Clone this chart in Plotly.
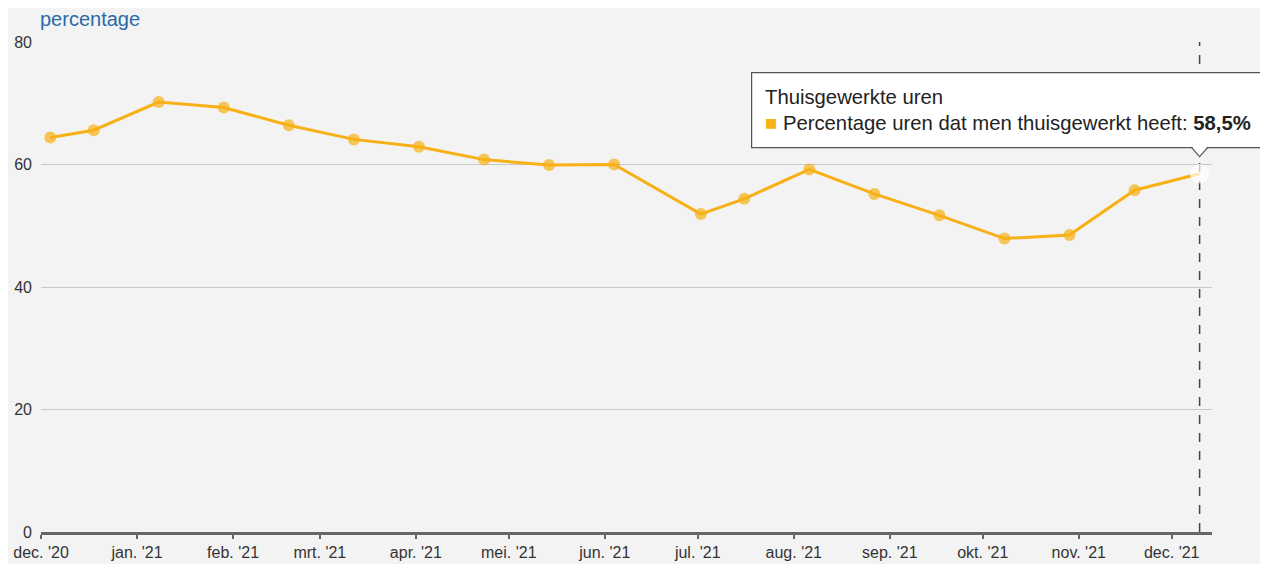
import plotly.graph_objects as go
import pandas as pd

# Data
dates = ["2020-12-04", "2020-12-18", "2021-01-08", "2021-01-29", "2021-02-19",
         "2021-03-12", "2021-04-02", "2021-04-23", "2021-05-14", "2021-06-04",
         "2021-07-02", "2021-07-16", "2021-08-06", "2021-08-27", "2021-09-17",
         "2021-10-08", "2021-10-29", "2021-11-19", "2021-12-10"]
values = [64.4, 65.6, 70.2, 69.3, 66.4, 64.1, 62.9, 60.8, 59.9, 60.0,
          51.9, 54.4, 59.2, 55.2, 51.7, 47.9, 48.5, 55.8, 58.5]
tick_vals = ["2020-12-01", "2021-01-01", "2021-02-01", "2021-03-01", "2021-04-01",
             "2021-05-01", "2021-06-01", "2021-07-01", "2021-08-01", "2021-09-01",
             "2021-10-01", "2021-11-01", "2021-12-01"]
tick_text = ["dec. '20", "jan. '21", "feb. '21", "mrt. '21", "apr. '21", "mei. '21",
             "jun. '21", "jul. '21", "aug. '21", "sep. '21", "okt. '21", "nov. '21",
             "dec. '21"]
x_range = ["2020-12-01", "2021-12-14"]
y_range = [0, 80]
series_name = "Thuisgewerkte uren"
series_label = "Percentage uren dat men thuisgewerkt heeft"

ORANGE = "#F7B016"
BG = "#F3F3F3"
FONT = "Liberation Sans, Arial, sans-serif"

n = len(values)
marker_colors = [ORANGE] * (n - 1) + ["white"]
marker_sizes = [12] * (n - 1) + [19]

fig = go.Figure()
fig.add_trace(go.Scatter(
    x=dates, y=values, mode="lines+markers",
    line=dict(color=ORANGE, width=3),
    marker=dict(color=marker_colors, size=marker_sizes, line=dict(width=0)),
    showlegend=False, hoverinfo="skip",
))

# hovered position in paper coordinates (computed from data and axis range)
t0 = pd.Timestamp(x_range[0]); t1 = pd.Timestamp(x_range[1])
last_x = pd.Timestamp(dates[-1])
px_frac = (last_x - t0) / (t1 - t0)
py_frac = (values[-1] - y_range[0]) / (y_range[1] - y_range[0])

shapes = [
    # dashed crosshair
    dict(type="line", xref="x", yref="paper", x0=dates[-1], x1=dates[-1], y0=0, y1=1,
         line=dict(color="#444444", width=1.5, dash="dash"), layer="between"),
    # tooltip box
    dict(type="rect", xref="paper", yref="paper", xsizemode="pixel", ysizemode="pixel",
         xanchor=px_frac, yanchor=py_frac, x0=-448, x1=66, y0=26, y1=101,
         fillcolor="white", line=dict(color="#555555", width=1.2), layer="above"),
    # pointer fill
    dict(type="path", xref="paper", yref="paper", xsizemode="pixel", ysizemode="pixel",
         xanchor=px_frac, yanchor=py_frac, path="M -8,27.5 L 0,17 L 8,27.5 Z",
         fillcolor="white", line=dict(width=0), layer="above"),
    # pointer edges
    dict(type="path", xref="paper", yref="paper", xsizemode="pixel", ysizemode="pixel",
         xanchor=px_frac, yanchor=py_frac, path="M -8,26 L 0,17 L 8,26",
         line=dict(color="#555555", width=1.2), layer="above"),
]

fig.add_annotation(
    xref="paper", yref="paper", x=px_frac, y=py_frac,
    xanchor="left", yanchor="top", xshift=-437, yshift=90,
    showarrow=False, align="left",
    text=(f"{series_name}<br>"
          f"<span style='color:{ORANGE}'>■</span> {series_label}: "
          f"<b>{str(values[-1]).replace('.', ',')}%</b>"),
    font=dict(family=FONT, size=20.3, color="#222222"),
)

fig.add_annotation(
    xref="paper", yref="paper", x=0, y=1, xanchor="left", yanchor="bottom",
    yshift=10, xshift=-3, showarrow=False, text="percentage",
    font=dict(family=FONT, size=20, color="#2A6AA8"),
)

# page body has an 8px margin, so the figure is offset by 8px
fig.update_layout(
    width=1260, height=556,
    margin=dict(l=33, r=56, t=34, b=32),
    paper_bgcolor=BG, plot_bgcolor=BG,
    font=dict(family=FONT, size=16, color="#333333"),
    shapes=shapes,
    xaxis=dict(
        type="date", range=x_range, tickvals=tick_vals, ticktext=tick_text,
        showgrid=False, showline=True, linecolor="#666666", linewidth=2.5,
        ticks="outside", ticklen=4, tickwidth=2, tickcolor="#666666",
        tickfont=dict(family=FONT, size=16, color="#333333"), zeroline=False,
        automargin=False,
    ),
    yaxis=dict(
        range=y_range, dtick=20, showgrid=True, gridcolor="#C8C8C8", gridwidth=1,
        zeroline=False, showline=False, ticks="", ticklabelstandoff=8,
        tickfont=dict(family=FONT, size=16, color="#333333"), automargin=False,
    ),
)

fig.write_html("out.html")
